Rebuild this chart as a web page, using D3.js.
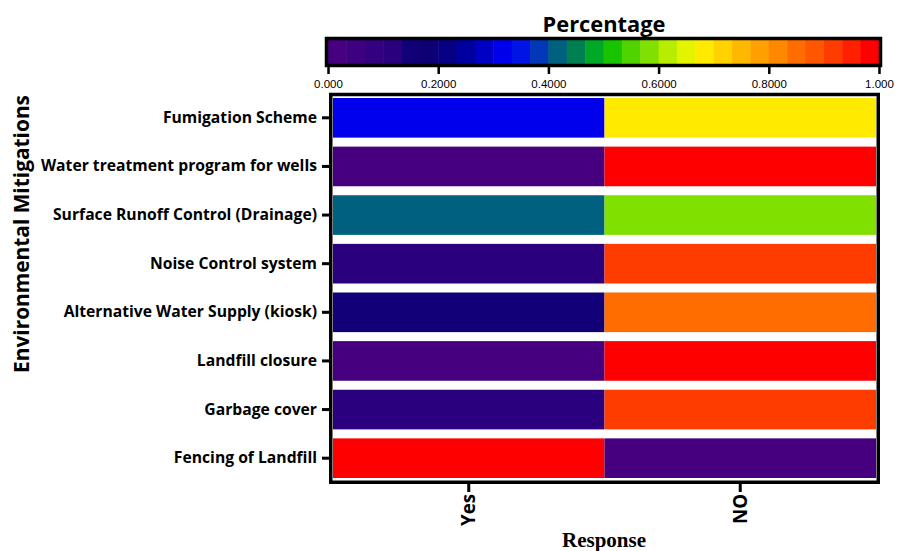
<!DOCTYPE html>
<html>
<head>
<meta charset="utf-8">
<script src="https://cdn.jsdelivr.net/npm/d3@7"></script>
<style>
  html, body { margin: 0; padding: 0; background: #fff; }
  svg { display: block; }
</style>
</head>
<body>
<svg id="chart" width="897" height="551"></svg>
<script>
// ---- data ----
const mitigations = [
  "Fumigation Scheme",
  "Water treatment program for wells",
  "Surface Runoff Control (Drainage)",
  "Noise Control system",
  "Alternative Water Supply (kiosk)",
  "Landfill closure",
  "Garbage cover",
  "Fencing of Landfill"
];
const responses = ["Yes", "NO"];
const yesValues = [0.32, 0.03, 0.42, 0.10, 0.15, 0.03, 0.10, 0.97];
const noValues  = [0.68, 0.97, 0.58, 0.90, 0.85, 0.97, 0.90, 0.03];
const colorTicks = [0, 0.2, 0.4, 0.6, 0.8, 1.0];
const colorTickLabels = ["0.000", "0.2000", "0.4000", "0.6000", "0.8000", "1.000"];
const palette = [
  "#46007f", "#3c0080", "#33007f", "#2a007e", "#120078", "#0c0074",
  "#080082", "#0000a0", "#0000c4", "#0000ec", "#0014e6", "#0038b8",
  "#006080", "#008050", "#00a828", "#18c400", "#50d400", "#80e000",
  "#b8ec00", "#e4f400", "#ffea00", "#ffd200", "#ffb800", "#ffa000",
  "#ff8800", "#ff6c00", "#ff5600", "#ff3c00", "#ff2000", "#ff0000"
];

const cells = [];
mitigations.forEach((m, i) => {
  cells.push({ row: m, col: responses[0], value: yesValues[i] });
  cells.push({ row: m, col: responses[1], value: noValues[i] });
});

const svg = d3.select("#chart");
const color = d3.scaleQuantize().domain([0, 1]).range(palette);
const SANS = "'Open Sans', Tahoma, Verdana, sans-serif";

function fitSize(textSel, target) {
  const node = textSel.node();
  const base = parseFloat(textSel.attr("font-size"));
  const w = node.getComputedTextLength();
  textSel.attr("font-size", (base * target / w).toFixed(2));
}

// ---- colour bar ----
const cb = { x0: 328, x1: 879, y0: 40, y1: 64 };
const cbScale = d3.scaleLinear().domain([0, 1]).range([cb.x0, cb.x1]);
const steps = d3.range(palette.length).map(i => i / palette.length);
const gBar = svg.append("g");
gBar.selectAll("rect.sw").data(steps).join("rect")
  .attr("class", "sw")
  .attr("x", d => cbScale(d))
  .attr("y", cb.y0)
  .attr("width", d => cbScale(d + 1 / palette.length) - cbScale(d) + 0.5)
  .attr("height", cb.y1 - cb.y0)
  .attr("fill", d => color(d + 0.5 / palette.length));
gBar.append("rect")
  .attr("x", cb.x0 - 1.5).attr("y", cb.y0 - 1.5)
  .attr("width", cb.x1 - cb.x0 + 3).attr("height", cb.y1 - cb.y0 + 3)
  .attr("fill", "none").attr("stroke", "#000").attr("stroke-width", 3.5);

const cbAxis = d3.axisBottom(cbScale)
  .tickValues(colorTicks)
  .tickFormat((d, i) => colorTickLabels[i])
  .tickSize(7).tickSizeOuter(0).tickPadding(6);
const gCbAxis = svg.append("g").attr("transform", `translate(0,${cb.y1 + 3})`).call(cbAxis);
gCbAxis.select(".domain").remove();
gCbAxis.selectAll(".tick line").attr("stroke", "#000").attr("stroke-width", 2.5);
gCbAxis.selectAll(".tick text")
  .attr("font-family", "'Liberation Sans', Arial, sans-serif")
  .attr("font-size", 11.5).attr("fill", "#000");

const title = svg.append("text")
  .attr("x", 604).attr("y", 32)
  .attr("text-anchor", "middle")
  .attr("font-family", SANS)
  .attr("font-weight", "bold").attr("font-size", 20)
  .attr("fill", "#000")
  .text("Percentage");
fitSize(title, 123);

// ---- heatmap ----
const x = d3.scaleBand().domain(responses).range([333, 876]).padding(0);
const y = d3.scaleBand().domain(mitigations).range([98, 478]).paddingInner(0.185).paddingOuter(0);

svg.append("g").selectAll("rect.cell").data(cells).join("rect")
  .attr("class", "cell")
  .attr("x", d => x(d.col))
  .attr("y", d => y(d.row))
  .attr("width", x.bandwidth())
  .attr("height", y.bandwidth())
  .attr("fill", d => color(d.value));

// frame
svg.append("rect")
  .attr("x", 330.75).attr("y", 94.5)
  .attr("width", 547.5).attr("height", 387.75)
  .attr("fill", "none").attr("stroke", "#000").attr("stroke-width", 3.5);

// y axis
const yAxis = d3.axisLeft(y).tickSize(7).tickPadding(5).tickSizeOuter(0);
const gy = svg.append("g").attr("transform", "translate(329,0)").call(yAxis);
gy.select(".domain").remove();
gy.selectAll(".tick line").attr("stroke", "#000").attr("stroke-width", 3);
gy.selectAll(".tick text")
  .attr("font-family", SANS)
  .attr("font-weight", "bold").attr("font-size", 13).attr("fill", "#000");
{
  const t = gy.selectAll(".tick text").filter(d => d === mitigations[1]);
  const w = t.node().getComputedTextLength();
  gy.selectAll(".tick text").attr("font-size", (13 * 276 / w).toFixed(2));
}

// x axis
const xAxis = d3.axisBottom(x).tickSize(8).tickSizeOuter(0).tickPadding(0);
const gx = svg.append("g").attr("transform", "translate(0,484)").call(xAxis);
gx.select(".domain").remove();
gx.selectAll(".tick line").attr("stroke", "#000").attr("stroke-width", 3);
gx.selectAll(".tick text")
  .attr("font-family", SANS)
  .attr("font-weight", "bold").attr("font-size", 13).attr("fill", "#000")
  .attr("transform", "rotate(-90)")
  .attr("text-anchor", "end")
  .attr("dy", "0.35em")
  .attr("x", -10).attr("y", 0);
{
  const t = gx.selectAll(".tick text").filter(d => d === "Yes");
  const w = t.node().getComputedTextLength();
  gx.selectAll(".tick text").attr("font-size", (13 * 32 / w).toFixed(2));
}

// axis titles
const yTitle = svg.append("text")
  .attr("transform", "translate(29,234) rotate(-90)")
  .attr("text-anchor", "middle")
  .attr("font-family", SANS)
  .attr("font-weight", "bold").attr("font-size", 20).attr("fill", "#000")
  .text("Environmental Mitigations");
fitSize(yTitle, 278);

svg.append("text")
  .attr("x", 604).attr("y", 547)
  .attr("text-anchor", "middle")
  .attr("font-family", "'Liberation Serif', 'Times New Roman', serif")
  .attr("font-weight", "bold").attr("font-size", 21).attr("fill", "#000")
  .text("Response");
</script>
</body>
</html>
